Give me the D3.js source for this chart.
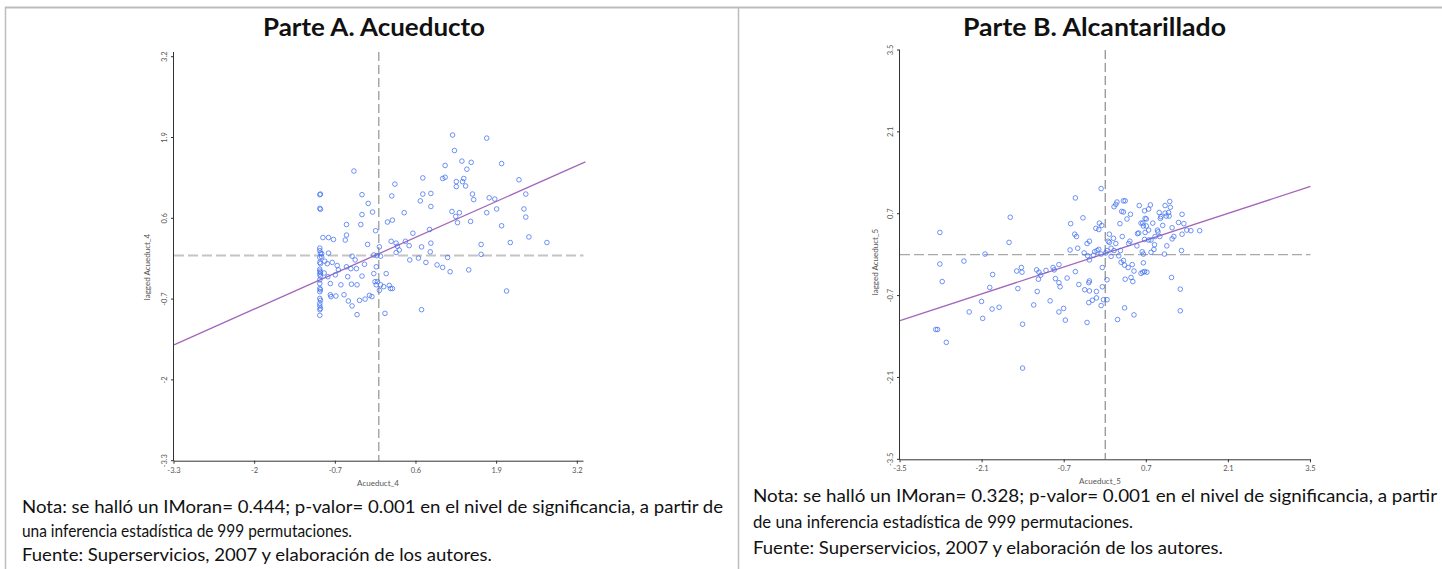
<!DOCTYPE html>
<html>
<head>
<meta charset="utf-8">
<script src="https://cdn.jsdelivr.net/npm/d3@7"></script>
<style>
  body { margin: 0; background: #fff; }
  svg { display: block; }
</style>
</head>
<body>
<div id="chart"></div>
<script>
// ticks de cada panel
const ticksA = [-3.3, -2, -0.7, 0.6, 1.9, 3.2];
const ticksB = [-3.5, -2.1, -0.7, 0.7, 2.1, 3.5];

// recta de Moran (pendiente = I de Moran)
const pendienteA = 0.444, interceptoA = 0.03;
const pendienteB = 0.328, interceptoB = 0.02;

// Parte A: [Acueduct_4, lagged Acueduct_4]
const puntosA = [
  [-0.95, 0.98], [-0.94, 0.99], [-0.95, 0.76], [-0.94, 0.745], [-0.95, 0.12], [-0.95, 0.08], [-0.94, 0.04],
  [-0.95, -0.03], [-0.95, -0.11], [-0.94, -0.13], [-0.95, -0.22], [-0.95, -0.25], [-0.94, -0.27], [-0.95, -0.30],
  [-0.94, -0.33], [-0.95, -0.39], [-0.95, -0.45], [-0.95, -0.53], [-0.94, -0.55], [-0.95, -0.58], [-0.95, -0.69],
  [-0.94, -0.72], [-0.95, -0.77], [-0.95, -0.81], [-0.94, -0.85], [-0.95, -0.87], [-0.95, -0.96], [-0.92, 0.03], [-0.92, -0.02],
  [1.19, 1.94], [1.74, 1.89], [1.22, 1.69], [1.34, 1.52], [1.49, 1.50], [1.07, 1.45], [1.42, 1.39], [1.98, 1.48],
  [-0.40, 1.36], [0.71, 1.25], [1.03, 1.24], [1.07, 1.26], [1.37, 1.24], [1.25, 1.19], [1.35, 1.19], [1.25, 1.11],
  [1.40, 1.12], [2.26, 1.22], [0.26, 1.15], [-0.27, 0.98], [0.21, 0.96], [0.71, 0.99], [0.84, 1.00], [1.51, 0.99],
  [2.37, 0.99], [1.78, 0.93], [1.87, 0.91], [1.53, 0.90], [0.67, 0.88], [-0.17, 0.84], [0.84, 0.79], [1.90, 0.75],
  [2.34, 0.75], [1.18, 0.71], [-0.10, 0.70], [1.30, 0.69], [1.74, 0.69], [0.41, 0.69], [-0.27, 0.66], [1.24, 0.63],
  [2.37, 0.62], [1.27, 0.53], [1.48, 0.55], [0.22, 0.57], [0.14, 0.54], [-0.52, 0.50], [-0.29, 0.50], [1.98, 0.48],
  [-0.05, 0.40], [0.82, 0.42], [0.55, 0.36], [-0.52, 0.33], [-0.90, 0.29], [-0.81, 0.29], [-0.73, 0.26], [-0.54, 0.25],
  [2.42, 0.30], [0.20, 0.23], [0.28, 0.20], [0.43, 0.23], [0.84, 0.20], [2.12, 0.21], [2.71, 0.21], [-0.18, 0.18],
  [1.65, 0.18], [0.49, 0.16], [0.30, 0.15], [0.01, 0.14], [0.69, 0.14], [0.33, 0.09], [0.28, 0.05], [0.83, 0.06],
  [-0.81, 0.04], [-0.43, -0.01], [-0.08, 0.01], [-0.03, 0.00], [0.03, -0.01], [1.65, 0.02], [0.64, -0.04], [1.11, -0.03],
  [0.50, -0.07], [-0.38, -0.07], [-0.87, -0.09], [-0.83, -0.13], [-0.75, -0.11], [-0.67, -0.16], [-0.23, -0.14], [0.76, -0.11],
  [0.94, -0.15], [-0.52, -0.18], [-0.45, -0.21], [-0.36, -0.21], [-0.04, -0.18], [1.03, -0.19], [-0.65, -0.23], [1.45, -0.23],
  [1.15, -0.26], [-0.88, -0.28], [-0.70, -0.31], [-0.08, -0.29], [0.12, -0.29], [-0.82, -0.34], [-0.50, -0.34], [-0.27, -0.33],
  [-0.06, -0.42], [-0.02, -0.42], [-0.78, -0.45], [-0.61, -0.47], [-0.44, -0.46], [-0.35, -0.47], [-0.04, -0.47], [0.03, -0.47],
  [0.17, -0.48], [0.08, -0.50], [0.19, -0.53], [0.22, -0.53], [0.01, -0.56], [2.06, -0.57], [-0.78, -0.63], [-0.69, -0.65],
  [-0.56, -0.63], [-0.15, -0.64], [-0.11, -0.66], [-0.77, -0.66], [-0.22, -0.70], [-0.49, -0.73], [-0.31, -0.72], [-0.43, -0.81],
  [0.69, -0.87], [-0.35, -0.95], [0.10, -0.93]
];

// Parte B: [Acueduct_5, lagged Acueduct_5]
const puntosB = [
  [-2.89, -1.28], [-2.86, -1.28], [-2.71, -1.50], [-2.82, 0.38], [-2.82, -0.16], [-2.78, -0.46], [-2.41, -0.11], [-2.05, 0.01],
  [-1.92, -0.34], [-1.97, -0.56], [-2.11, -0.80], [-2.09, -1.09], [-2.32, -0.98], [-1.93, -0.93], [-1.81, -0.90], [-1.62, 0.64],
  [-1.64, 0.21], [-1.51, -0.28], [-1.43, -0.22], [-1.42, -0.30], [-1.49, -0.58], [-1.41, -1.19], [-1.41, -1.94], [-1.22, -0.86],
  [-1.17, -0.26], [-1.13, -0.30], [-1.10, -0.35], [-1.14, -0.42], [-1.16, -0.63], [-1.01, -0.27], [-0.89, -0.22], [-0.87, -0.26],
  [-0.85, -0.41], [-0.79, -0.17], [-0.94, -0.79], [-0.79, -0.48], [-0.77, -0.55], [-0.71, -0.92], [-0.79, -0.98], [-0.68, -1.12],
  [-0.65, -0.40], [-0.60, 0.08], [-0.59, 0.53], [-0.51, 0.97], [-0.52, 0.35], [-0.49, 0.31], [-0.47, 0.11], [-0.51, -0.29],
  [-0.45, -0.51], [-0.38, 0.63], [-0.36, 0.03], [-0.35, -0.60], [-0.31, -1.16], [-0.31, 0.19], [-0.27, 0.23], [-0.30, -0.02],
  [-0.27, -0.09], [-0.28, -0.48], [-0.27, -0.45], [-0.27, -0.62], [-0.28, -0.82], [-0.22, -0.78], [-0.20, -0.01], [-0.16, 0.45],
  [-0.18, 0.05], [-0.14, 0.07], [-0.11, 0.09], [-0.15, -0.63], [-0.15, -0.74], [-0.11, 0.43], [-0.10, 0.54], [-0.07, 1.13],
  [-0.06, 0.50], [-0.07, 0.01], [-0.05, -0.22], [-0.05, -0.55], [-0.07, -0.87], [-0.03, -0.77], [0.03, 0.07], [0.01, 0.03],
  [0.03, -0.77], [0.03, -0.43], [0.05, 0.23], [0.07, 0.35], [0.07, 0.21], [0.10, 0.11], [0.10, -0.03], [0.14, 0.28],
  [0.15, 0.07], [0.18, 0.19], [0.15, 0.82], [0.18, 0.86], [0.20, 0.90], [0.26, 0.07], [0.25, 0.53], [0.23, -0.02],
  [0.21, -1.11], [0.28, 0.74], [0.31, 0.73], [0.31, 0.92], [0.34, 0.92], [0.29, 0.31], [0.27, -0.13], [0.31, -0.10],
  [0.33, -0.18], [0.34, -0.42], [0.33, -0.91], [0.37, 0.61], [0.39, -0.22], [0.43, 0.69], [0.42, 0.23], [0.40, 0.19],
  [0.46, -0.17], [0.44, -0.39], [0.47, -0.46], [0.49, -0.28], [0.49, -1.03], [0.54, 0.15], [0.58, 0.84], [0.57, 0.37],
  [0.55, 0.36], [0.61, 0.54], [0.64, 0.54], [0.65, 0.49], [0.67, 0.75], [0.68, 0.62], [0.70, 0.61], [0.68, 0.38],
  [0.70, 0.49], [0.67, 0.26], [0.63, 0.05], [0.65, 0.01], [0.65, -0.14], [0.61, -0.32], [0.64, -0.30], [0.67, -0.29],
  [0.71, -0.30], [0.74, 0.78], [0.77, 0.85], [0.74, 0.42], [0.74, 0.25], [0.78, 0.25], [0.78, 0.04], [0.81, 0.54],
  [0.84, 0.17], [0.83, 0.09], [0.85, 0.31], [0.90, 0.39], [0.89, 0.42], [0.92, 0.72], [0.95, 0.65], [0.94, 0.62],
  [0.93, 0.31], [0.98, 0.50], [1.02, 0.84], [1.02, 0.71], [1.01, 0.01], [1.04, 0.66], [1.05, 0.15], [1.08, 0.72],
  [1.10, 0.91], [1.11, 0.81], [1.09, 0.66], [1.14, 0.46], [1.14, 0.27], [1.17, 0.31], [1.13, -0.39], [1.25, 0.55],
  [1.31, 0.69], [1.34, 0.53], [1.31, 0.35], [1.30, 0.07], [1.28, -0.59], [1.28, -0.96], [1.39, 0.42], [1.46, 0.41],
  [1.61, 0.41]
];

let svg = d3.select('#chart').append('svg')
  .attr('width', 1442)
  .attr('height', 569)
  .style('font-family', 'Lato, "Open Sans", sans-serif');

svg.append('rect').attr('width', 1442).attr('height', 569).attr('fill', '#fff');

// marco
svg.append('line').attr('x1', 5).attr('x2', 1442).attr('y1', 7.5).attr('y2', 7.5)
  .attr('stroke', '#bdbdbd').attr('stroke-width', 2);
svg.append('line').attr('x1', 5.5).attr('x2', 5.5).attr('y1', 7).attr('y2', 569)
  .attr('stroke', '#bdbdbd').attr('stroke-width', 1.5);
svg.append('line').attr('x1', 738.5).attr('x2', 738.5).attr('y1', 7).attr('y2', 569)
  .attr('stroke', '#bdbdbd').attr('stroke-width', 1.5);

let drawPanel = (cfg) => {
  let x = d3.scaleLinear().domain(cfg.xDomain).range(cfg.xRange);
  let y = d3.scaleLinear().domain(cfg.yDomain).range(cfg.yRange);
  let x0 = cfg.xRange[0], y0 = cfg.yRange[0];
  let g = svg.append('g');

  // líneas de referencia en cero
  g.append('line')
    .attr('x1', x0).attr('x2', cfg.xEnd)
    .attr('y1', y(0)).attr('y2', y(0))
    .attr('stroke', cfg.hDash.color).attr('stroke-width', cfg.hDash.width)
    .attr('stroke-dasharray', '10,4');
  g.append('line')
    .attr('x1', x(0)).attr('x2', x(0))
    .attr('y1', cfg.yTop).attr('y2', y0)
    .attr('stroke', cfg.vDash.color).attr('stroke-width', cfg.vDash.width)
    .attr('stroke-dasharray', '9,4');

  // ejes
  g.append('line').attr('x1', x0).attr('x2', cfg.xEnd).attr('y1', y0 + 0.5).attr('y2', y0 + 0.5)
    .attr('stroke', '#333').attr('stroke-width', 1);
  g.append('line').attr('x1', x0 - 0.5).attr('x2', x0 - 0.5).attr('y1', cfg.yTop).attr('y2', y0)
    .attr('stroke', '#333').attr('stroke-width', 1);

  g.selectAll('.xt').data(cfg.ticks).enter().append('line')
    .attr('x1', d => x(d)).attr('x2', d => x(d))
    .attr('y1', y0).attr('y2', y0 + 3)
    .attr('stroke', '#333');
  g.selectAll('.xl').data(cfg.ticks).enter().append('text')
    .attr('x', d => x(d)).attr('y', y0 + 12)
    .attr('text-anchor', 'middle')
    .attr('font-size', 7.5).attr('fill', '#555')
    .text(d => d);

  g.selectAll('.yt').data(cfg.ticks).enter().append('line')
    .attr('x1', x0 - 3).attr('x2', x0)
    .attr('y1', d => y(d)).attr('y2', d => y(d))
    .attr('stroke', '#333');
  g.selectAll('.yl').data(cfg.ticks).enter().append('text')
    .attr('transform', d => `translate(${x0 - 7},${y(d)}) rotate(-90)`)
    .attr('text-anchor', 'middle')
    .attr('font-size', 7.5).attr('fill', '#555')
    .text(d => d);

  // títulos de ejes
  g.append('text')
    .attr('transform', `translate(${cfg.yLabelPos[0]},${cfg.yLabelPos[1]}) rotate(-90)`)
    .attr('text-anchor', 'middle').attr('font-size', 8).attr('fill', '#555')
    .text(cfg.yLabel);
  g.append('text')
    .attr('x', cfg.xLabelPos[0]).attr('y', cfg.xLabelPos[1])
    .attr('text-anchor', 'middle').attr('font-size', 8).attr('fill', '#555')
    .text(cfg.xLabel);

  // recta de regresión
  let lx = [cfg.xDomain[0], cfg.lineEnd];
  g.append('line')
    .attr('x1', x(lx[0])).attr('y1', y(cfg.intercept + cfg.slope * lx[0]))
    .attr('x2', x(lx[1])).attr('y2', y(cfg.intercept + cfg.slope * lx[1]))
    .attr('stroke', '#a466b8').attr('stroke-width', 1.3);

  // puntos
  g.selectAll('circle').data(cfg.points).enter().append('circle')
    .attr('cx', d => x(d[0]))
    .attr('cy', d => y(d[1]))
    .attr('r', 2.3)
    .attr('fill', 'none')
    .attr('stroke', '#3f6ff0')
    .attr('stroke-opacity', 0.75)
    .attr('stroke-width', 1);

  // título del panel
  g.append('text')
    .attr('x', cfg.title.x).attr('y', 36)
    .attr('text-anchor', 'middle')
    .attr('font-size', 25).attr('font-weight', 'bold').attr('fill', '#111')
    .attr('textLength', cfg.title.w).attr('lengthAdjust', 'spacingAndGlyphs')
    .text(cfg.title.text);

  // notas
  g.selectAll('.nota').data(cfg.notes).enter().append('text')
    .attr('x', cfg.noteX).attr('y', d => d.y)
    .attr('font-size', 17).attr('fill', '#111')
    .attr('textLength', d => d.w).attr('lengthAdjust', 'spacingAndGlyphs')
    .text(d => d.t);
};

drawPanel({
  xDomain: [-3.3, 3.2], xRange: [174, 577.3], xEnd: 583.5,
  yDomain: [-3.3, 3.2], yRange: [460.7, 56.7], yTop: 52,
  ticks: ticksA, points: puntosA,
  slope: pendienteA, intercept: interceptoA, lineEnd: 3.33,
  hDash: { color: '#c4c4c4', width: 2 }, vDash: { color: '#a8a8a8', width: 1.5 },
  yLabel: 'lagged Acueduct_4', yLabelPos: [150, 267],
  xLabel: 'Acueduct_4', xLabelPos: [378, 486],
  title: { text: 'Parte A. Acueducto', x: 374, w: 222 },
  noteX: 22,
  notes: [
    { t: 'Nota: se halló un IMoran= 0.444; p-valor= 0.001 en el nivel de significancia, a partir de', y: 513, w: 701 },
    { t: 'una inferencia estadística de 999 permutaciones.', y: 537, w: 330 },
    { t: 'Fuente: Superservicios, 2007 y elaboración de los autores.', y: 561, w: 470 }
  ]
});

drawPanel({
  xDomain: [-3.5, 3.5], xRange: [900, 1310.5],
  xEnd: 1310.5,
  yDomain: [-3.5, 3.5], yRange: [459.3, 50], yTop: 50,
  ticks: ticksB, points: puntosB,
  slope: pendienteB, intercept: interceptoB, lineEnd: 3.5,
  hDash: { color: '#a8a8a8', width: 1.3 }, vDash: { color: '#8c8c8c', width: 1.2 },
  yLabel: 'lagged Acueduct_5', yLabelPos: [878, 262],
  xLabel: 'Acueduct_5', xLabelPos: [1100, 484],
  title: { text: 'Parte B. Alcantarillado', x: 1094.5, w: 263 },
  noteX: 753,
  notes: [
    { t: 'Nota: se halló un IMoran= 0.328; p-valor= 0.001 en el nivel de significancia, a partir', y: 502, w: 684 },
    { t: 'de una inferencia estadística de 999 permutaciones.', y: 528, w: 380 },
    { t: 'Fuente: Superservicios, 2007 y elaboración de los autores.', y: 554, w: 470 }
  ]
});
</script>
</body>
</html>
